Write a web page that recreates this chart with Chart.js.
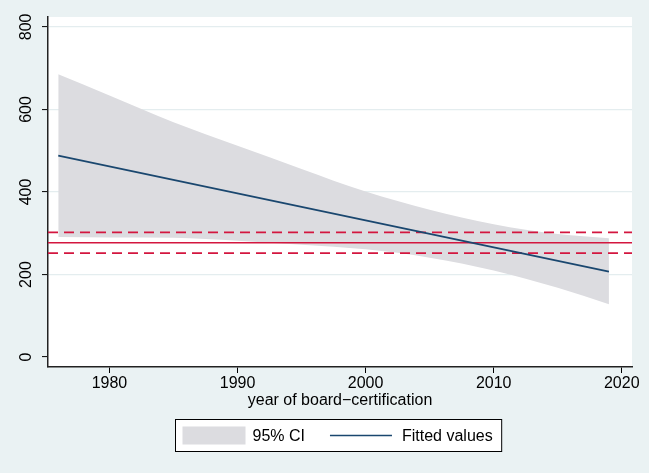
<!DOCTYPE html>
<html>
<head>
<meta charset="utf-8">
<script src="https://cdn.jsdelivr.net/npm/chart.js@4.4.0/dist/chart.umd.min.js"></script>
<style>
  html, body { margin: 0; padding: 0; background: #EAF2F3; }
  #wrap { width: 649px; height: 473px; }
</style>
</head>
<body>
<div id="wrap"><canvas id="myChart" width="649" height="473"></canvas></div>
<script>
// Confidence band of the linear fit
const ciYears = [1976, 1980, 1985, 1990, 1995, 2000, 2005, 2010, 2015, 2019];
const ciUpper = [685, 634, 569, 512, 456, 401, 357, 322, 298, 288];
const ciLower = [291, 290, 289, 282, 272, 261, 241, 210, 168, 128];

// Fitted line (straight, two ends)
const fitYears = [1976, 2019];
const fitValues = [488, 207];

// Horizontal reference lines (mean and its bounds)
const refYears = [1975.2, 2020.8];
const meanValue = 277;
const boundValues = [302, 252];

const xTicks = [1980, 1990, 2000, 2010, 2020];
const yTicks = [0, 200, 400, 600, 800];

const legendLabels = ['95% CI', 'Fitted values'];

const FONT = '"Liberation Sans", Arial, Helvetica, sans-serif';
const bandColor = '#DCDCE0';
const fitColor = '#1A476F';
const refColor = '#D3163F';

function pts(xs, ys) {
  return xs.map((x, i) => ({ x: x, y: ys[i] }));
}

function flat(v) {
  return refYears.map(x => ({ x: x, y: v }));
}

// white plot region + bordered legend under the plot
const stataLook = {
  id: 'stataLook',
  beforeDraw(chart) {
    const { ctx, chartArea: a } = chart;
    ctx.save();
    ctx.fillStyle = '#FFFFFF';
    ctx.fillRect(a.left, a.top, a.right - a.left, a.bottom - a.top);
    ctx.restore();
  },
  afterDraw(chart) {
    const { ctx, chartArea: a } = chart;
    ctx.save();
    ctx.font = '16px ' + FONT;
    const w1 = ctx.measureText(legendLabels[0]).width;
    const w2 = ctx.measureText(legendLabels[1]).width;
    const boxW = 7 + 63 + 7 + w1 + 25 + 62 + 10 + w2 + 9;
    const cx = (a.left + a.right) / 2 - 2;
    const left = Math.round(cx - boxW / 2) + 0.5;
    const top = 419.5;
    const h = 32;
    const cy = top + h / 2;

    ctx.fillStyle = '#FFFFFF';
    ctx.fillRect(left, top, boxW, h);
    ctx.strokeStyle = '#000000';
    ctx.lineWidth = 1;
    ctx.strokeRect(left, top, boxW, h);

    let x = left + 7;
    ctx.fillStyle = bandColor;
    ctx.fillRect(x, cy - 9, 63, 18);
    x += 63 + 7;
    ctx.fillStyle = '#000000';
    ctx.textBaseline = 'middle';
    ctx.textAlign = 'left';
    ctx.fillText(legendLabels[0], x, cy + 1);
    x += w1 + 25;
    ctx.strokeStyle = fitColor;
    ctx.lineWidth = 1.6;
    ctx.beginPath();
    ctx.moveTo(x, cy);
    ctx.lineTo(x + 62, cy);
    ctx.stroke();
    x += 62 + 10;
    ctx.fillText(legendLabels[1], x, cy + 1);
    ctx.restore();
  }
};

const ctx = document.getElementById('myChart').getContext('2d');

const myChart = new Chart(ctx, {
  type: 'line',
  data: {
    datasets: [
      {
        label: legendLabels[0],
        data: pts(ciYears, ciUpper),
        borderColor: 'transparent',
        borderWidth: 0,
        backgroundColor: bandColor,
        fill: '+1',
        cubicInterpolationMode: 'monotone',
        order: 10
      },
      {
        label: 'lower',
        data: pts(ciYears, ciLower),
        borderColor: 'transparent',
        borderWidth: 0,
        fill: false,
        cubicInterpolationMode: 'monotone',
        order: 9
      },
      {
        label: 'upper bound',
        data: flat(boundValues[0]),
        borderColor: refColor,
        borderWidth: 1.8,
        borderDash: [10, 6],
        fill: false,
        order: 3
      },
      {
        label: 'mean',
        data: flat(meanValue),
        borderColor: refColor,
        borderWidth: 1.5,
        fill: false,
        order: 3
      },
      {
        label: 'lower bound',
        data: flat(boundValues[1]),
        borderColor: refColor,
        borderWidth: 1.8,
        borderDash: [10, 6],
        fill: false,
        order: 3
      },
      {
        label: legendLabels[1],
        data: pts(fitYears, fitValues),
        borderColor: fitColor,
        borderWidth: 1.7,
        fill: false,
        order: 0
      }
    ]
  },
  options: {
    responsive: false,
    animation: false,
    devicePixelRatio: 1,
    layout: { padding: { left: 0, top: 17, right: 17, bottom: 64 } },
    elements: { point: { radius: 0, hoverRadius: 0 } },
    plugins: {
      legend: { display: false },
      tooltip: { enabled: false }
    },
    scales: {
      x: {
        type: 'linear',
        min: refYears[0],
        max: refYears[1],
        afterBuildTicks: s => { s.ticks = xTicks.map(v => ({ value: v })); },
        afterFit: s => { s.height = 42; },
        ticks: {
          font: { family: FONT, size: 16 },
          color: '#000000',
          padding: 1,
          maxRotation: 0,
          callback: v => String(v)
        },
        grid: { drawOnChartArea: false, tickLength: 6, tickColor: '#000000', tickWidth: 1 },
        border: { color: '#222222', width: 1.5 },
        title: {
          display: true,
          text: 'year of board\u2212certification',
          font: { family: FONT, size: 16 },
          color: '#000000',
          padding: { top: 0, bottom: -1 }
        }
      },
      y: {
        min: -24,
        max: 824,
        afterBuildTicks: s => { s.ticks = yTicks.map(v => ({ value: v })); },
        afterFit: s => { s.width = 48; },
        ticks: {
          font: { family: FONT, size: 16 },
          color: '#000000',
          minRotation: 90,
          maxRotation: 90,
          crossAlign: 'center',
          padding: 2,
          callback: v => String(v)
        },
        grid: {
          color: c => (c.tick && c.tick.value === 0 ? 'rgba(0,0,0,0)' : '#E4EDEF'),
          lineWidth: 1.2,
          tickLength: 6,
          tickColor: '#000000',
          tickWidth: 1
        },
        border: { color: '#222222', width: 1.5 }
      }
    }
  },
  plugins: [stataLook]
});
</script>
</body>
</html>
